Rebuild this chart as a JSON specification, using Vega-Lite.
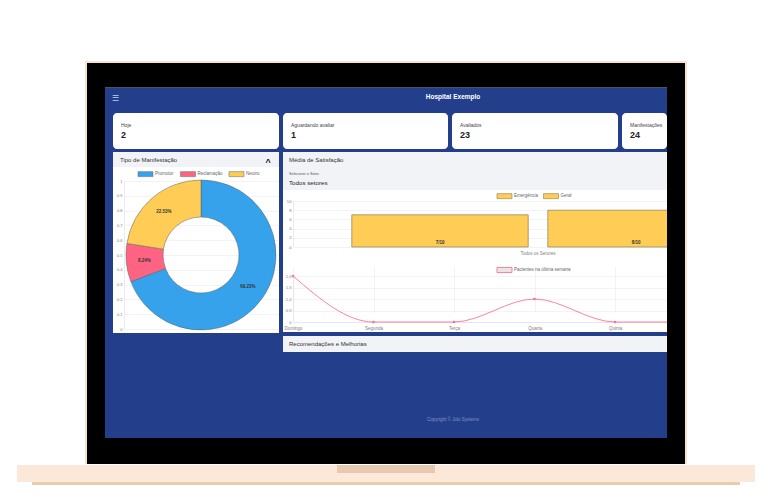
{
 "$schema": "https://vega.github.io/schema/vega-lite/v6.json",
 "padding": 0,
 "background": "#233f8b",
 "config": {
  "view": {"stroke": null, "clip": true},
  "font": "Liberation Sans",
  "axis": {"labelFont": "Liberation Sans", "labelColor": "#808080", "labelFontSize": 4.2, "gridColor": "#ebebeb", "gridWidth": 0.6, "domainColor": "#dddddd", "domainWidth": 0.6, "ticks": false, "labelPadding": 2},
  "legend": {"labelFont": "Liberation Sans", "labelFontSize": 4.5, "labelColor": "#666666", "padding": 0, "symbolSize": 225, "symbolType": "M-1,-0.333H1V0.333H-1Z", "labelOffset": 1.5, "columnPadding": 4.5, "symbolStrokeWidth": 0.6}
 },
 "spacing": 0,
 "resolve": {"scale": {"x": "independent", "y": "independent", "color": "independent", "xOffset": "independent", "theta": "independent"}, "axis": {"x": "independent", "y": "independent"}, "legend": {"color": "independent"}},
 "vconcat": [
  {"width": 779, "height": 61, "view": {"fill": "white"}, "data": {"values": []}, "mark": "rect", "encoding": {}},
  {"spacing": 0, "hconcat": [
   {"width": 85, "height": 2, "view": {"fill": "white"}, "data": {"values": []}, "mark": "rect", "encoding": {}},
   {"width": 602, "height": 2, "view": {"fill": "#f8e1cf"}, "data": {"values": []}, "mark": "rect", "encoding": {}},
   {"width": 92, "height": 2, "view": {"fill": "white"}, "data": {"values": []}, "mark": "rect", "encoding": {}}
  ]},
  {"spacing": 0,
   "resolve": {"scale": {"x": "independent", "y": "independent", "color": "independent", "xOffset": "independent", "theta": "independent"}, "axis": {"x": "independent", "y": "independent"}, "legend": {"color": "independent"}},
   "hconcat": [
   {"width": 85, "height": 401, "view": {"fill": "white"}, "data": {"values": []}, "mark": "rect", "encoding": {}},
   {"width": 2, "height": 401, "view": {"fill": "#f8e1cf"}, "data": {"values": []}, "mark": "rect", "encoding": {}},
   {"spacing": 0,
    "resolve": {"scale": {"x": "independent", "y": "independent", "color": "independent", "xOffset": "independent", "theta": "independent"}, "axis": {"x": "independent", "y": "independent"}, "legend": {"color": "independent"}},
    "vconcat": [
    {"width": 598, "height": 24, "view": {"fill": "black"}, "data": {"values": []}, "mark": "rect", "encoding": {}},
    {"spacing": 0,
     "resolve": {"scale": {"x": "independent", "y": "independent", "color": "independent", "xOffset": "independent", "theta": "independent"}, "axis": {"x": "independent", "y": "independent"}, "legend": {"color": "independent"}},
     "hconcat": [
     {"width": 18, "height": 351, "view": {"fill": "black"}, "data": {"values": []}, "mark": "rect", "encoding": {}},
     {"spacing": 0,
      "resolve": {"scale": {"x": "independent", "y": "independent", "color": "independent", "xOffset": "independent", "theta": "independent"}, "axis": {"x": "independent", "y": "independent"}, "legend": {"color": "independent"}},
      "vconcat": [
      {"width": 562, "height": 1, "view": {"fill": "#4d5361"}, "data": {"values": []}, "mark": "rect", "encoding": {}},
      {"width": 562, "height": 25,
       "layer": [
        {"data": {"values": [{"titulo": "Hospital Exemplo"}]}, "mark": {"type": "text", "fontSize": 6.5, "fontWeight": "bold", "color": "white", "dx": 67, "dy": -3.5}, "encoding": {"text": {"field": "titulo"}}},
        {"data": {"values": [{"icone": "☰"}]}, "mark": {"type": "text", "fontSize": 8, "color": "#c5cfee", "dx": -271, "dy": -2}, "encoding": {"text": {"field": "icone"}}}
       ]},
      {"spacing": 4, "bounds": "flush",
       "hconcat": [
        {"width": 4, "height": 36, "data": {"values": []}, "mark": "rect", "encoding": {}},
        {"width": 166, "height": 36, "view": {"fill": "white", "cornerRadius": 4},
         "data": {"values": [{"rotulo": "Hoje", "valor": 2}]},
         "layer": [
          {"mark": {"type": "text", "align": "left", "baseline": "middle", "dx": -75, "dy": -6, "fontSize": 5, "color": "#444444"}, "encoding": {"text": {"field": "rotulo"}}},
          {"mark": {"type": "text", "align": "left", "baseline": "middle", "dx": -75, "dy": 4, "fontSize": 9, "fontWeight": "bold", "color": "#222222"}, "encoding": {"text": {"field": "valor"}}}
         ]},
        {"width": 165, "height": 36, "view": {"fill": "white", "cornerRadius": 4},
         "data": {"values": [{"rotulo": "Aguardando avaliar", "valor": 1}]},
         "layer": [
          {"mark": {"type": "text", "align": "left", "baseline": "middle", "dx": -74.5, "dy": -6, "fontSize": 5, "color": "#444444"}, "encoding": {"text": {"field": "rotulo"}}},
          {"mark": {"type": "text", "align": "left", "baseline": "middle", "dx": -74.5, "dy": 4, "fontSize": 9, "fontWeight": "bold", "color": "#222222"}, "encoding": {"text": {"field": "valor"}}}
         ]},
        {"width": 166, "height": 36, "view": {"fill": "white", "cornerRadius": 4},
         "data": {"values": [{"rotulo": "Avaliados", "valor": 23}]},
         "layer": [
          {"mark": {"type": "text", "align": "left", "baseline": "middle", "dx": -75, "dy": -6, "fontSize": 5, "color": "#444444"}, "encoding": {"text": {"field": "rotulo"}}},
          {"mark": {"type": "text", "align": "left", "baseline": "middle", "dx": -75, "dy": 4, "fontSize": 9, "fontWeight": "bold", "color": "#222222"}, "encoding": {"text": {"field": "valor"}}}
         ]},
        {"width": 45, "height": 36, "view": {"fill": "white", "cornerRadius": 4},
         "data": {"values": [{"rotulo": "Manifestações", "valor": 24}]},
         "layer": [
          {"mark": {"type": "text", "align": "left", "baseline": "middle", "dx": -14.5, "dy": -6, "fontSize": 5, "color": "#444444", "limit": 37, "ellipsis": ""}, "encoding": {"text": {"field": "rotulo"}}},
          {"mark": {"type": "text", "align": "left", "baseline": "middle", "dx": -14.5, "dy": 4, "fontSize": 9, "fontWeight": "bold", "color": "#222222"}, "encoding": {"text": {"field": "valor"}}}
         ]}
       ]},
      {"width": 562, "height": 3, "data": {"values": []}, "mark": "rect", "encoding": {}},
      {"spacing": 0,
       "resolve": {"scale": {"x": "independent", "y": "independent", "color": "independent", "xOffset": "independent", "theta": "independent"}, "axis": {"x": "independent", "y": "independent"}, "legend": {"color": "independent"}},
       "hconcat": [
       {"width": 8, "height": 200, "data": {"values": []}, "mark": "rect", "encoding": {}},
       {"spacing": 0, "bounds": "flush",
        "resolve": {"scale": {"x": "independent", "y": "independent", "color": "independent", "xOffset": "independent", "theta": "independent"}, "axis": {"x": "independent", "y": "independent"}, "legend": {"color": "independent"}},
        "vconcat": [
        {"width": 166, "height": 15, "view": {"fill": "#f1f3f7"},
         "layer": [
          {"data": {"values": [{"titulo": "Tipo de Manifestação"}]}, "mark": {"type": "text", "align": "left", "baseline": "middle", "dx": -76, "dy": 0.5, "fontSize": 6, "color": "#333333"}, "encoding": {"text": {"field": "titulo"}}},
          {"data": {"values": [{"icone": "^"}]}, "mark": {"type": "text", "align": "center", "baseline": "middle", "dx": 72, "dy": 2, "fontSize": 9, "fontWeight": "bold", "color": "#222222"}, "encoding": {"text": {"field": "icone"}}}
         ]},
        {"width": 166, "height": 166, "view": {"fill": "white"},
         "data": {"values": [{"tipo": "Promotor", "pct": 0.6923}, {"tipo": "Reclamação", "pct": 0.0824}, {"tipo": "Neutro", "pct": 0.2253}]},
         "transform": [{"window": [{"op": "row_number", "as": "ordem"}]}],
         "encoding": {
          "x": {"datum": 0.5, "type": "quantitative", "scale": {"domain": [0, 1], "range": [11, 165]}, "axis": null},
          "y": {"datum": 0.5, "type": "quantitative", "scale": {"domain": [0, 1], "range": [162, 14]}, "axis": {"orient": "left", "offset": -11, "values": [0, 0.1, 0.2, 0.3, 0.4, 0.5, 0.6, 0.7, 0.8, 0.9, 1], "format": ".1~f", "title": null, "labelFontSize": 4, "grid": true}},
          "theta": {"field": "pct", "type": "quantitative", "stack": true},
          "order": {"field": "ordem", "type": "quantitative"}
         },
         "layer": [
          {"mark": {"type": "arc", "innerRadius": 38, "outerRadius": 75, "stroke": "#5f5f5f", "strokeWidth": 0.5},
           "encoding": {"color": {"field": "tipo", "type": "nominal", "scale": {"domain": ["Promotor", "Reclamação", "Neutro"], "range": ["#36a2eb", "#ff6384", "#ffcd56"]}, "legend": {"orient": "none", "legendX": 24.5, "legendY": -1, "direction": "horizontal", "columns": 3, "title": null, "symbolStrokeColor": "#777777", "columnPadding": 4.5}}}},
          {"mark": {"type": "text", "radius": 57, "fontSize": 4.5, "fontWeight": "bold", "color": "#333333"},
           "encoding": {"text": {"field": "pct", "type": "quantitative", "format": ".2%"}}}
         ]},
        {"width": 166, "height": 19, "data": {"values": []}, "mark": "rect", "encoding": {}}
       ]},
       {"width": 4, "height": 200, "data": {"values": []}, "mark": "rect", "encoding": {}},
       {"spacing": 0, "bounds": "flush",
        "resolve": {"scale": {"x": "independent", "y": "independent", "color": "independent", "xOffset": "independent", "theta": "independent"}, "axis": {"x": "independent", "y": "independent"}, "legend": {"color": "independent"}},
        "vconcat": [
        {"width": 384, "height": 38, "view": {"fill": "#f1f3f7"},
         "layer": [
          {"data": {"values": [{"texto": "Média de Satisfação"}]}, "mark": {"type": "text", "align": "left", "baseline": "middle", "dx": -186, "dy": -11, "fontSize": 6, "color": "#333333"}, "encoding": {"text": {"field": "texto"}}},
          {"data": {"values": [{"texto": "Selecione o Setor"}]}, "mark": {"type": "text", "align": "left", "baseline": "middle", "dx": -186, "dy": 3, "fontSize": 3.8, "color": "#555555"}, "encoding": {"text": {"field": "texto"}}},
          {"data": {"values": [{"texto": "Todos setores"}]}, "mark": {"type": "text", "align": "left", "baseline": "middle", "dx": -186, "dy": 12, "fontSize": 6.2, "color": "#222222"}, "encoding": {"text": {"field": "texto"}}}
         ]},
        {"width": 384, "height": 66, "view": {"fill": "white"},
         "data": {"values": [{"grupo": "Todos os Setores", "setor": "Emergência", "nota": 7, "rotulo": "7/10"}, {"grupo": "Todos os Setores", "setor": "Geral", "nota": 8, "rotulo": "8/10"}]},
         "encoding": {
          "x": {"field": "grupo", "type": "nominal", "scale": {"range": [10, 500], "paddingInner": 0, "paddingOuter": 0.125}, "axis": {"orient": "bottom", "offset": -9, "title": null, "labelAngle": 0, "labelFontSize": 4.5, "labelPadding": 3, "grid": false, "domain": false}},
          "xOffset": {"field": "setor", "type": "nominal", "scale": {"paddingInner": 0.1, "paddingOuter": 0.05}},
          "y": {"field": "nota", "type": "quantitative", "scale": {"domain": [0, 10], "range": [57, 11]}, "axis": {"orient": "left", "offset": -10, "values": [0, 2, 4, 6, 8, 10], "title": null, "grid": true, "labelOverlap": false}}
         },
         "layer": [
          {"mark": {"type": "bar", "clip": true, "stroke": "#8a7d5a", "strokeWidth": 0.7},
           "encoding": {
            "color": {"field": "setor", "type": "nominal", "scale": {"domain": ["Emergência", "Geral"], "range": ["#ffcd56", "#ffcd56"]}, "legend": {"orient": "none", "legendX": 213.5, "legendY": -2, "direction": "horizontal", "columns": 2, "title": null, "symbolStrokeColor": "#8a7d5a", "columnPadding": 3.5}}
           }},
          {"mark": {"type": "text", "clip": true, "baseline": "bottom", "dy": -2.5, "fontSize": 4.5, "fontWeight": "bold", "color": "#333333"},
           "encoding": {"y": {"datum": 0, "type": "quantitative", "axis": {"orient": "left", "offset": -10, "values": [0, 2, 4, 6, 8, 10], "title": null, "grid": true, "labelOverlap": false}}, "text": {"field": "rotulo"}}}
         ]},
        {"width": 384, "height": 76, "view": {"fill": "white"},
         "data": {"values": [{"dia": "Domingo", "pacientes": 2}, {"dia": "Segunda", "pacientes": 0}, {"dia": "Terça", "pacientes": 0}, {"dia": "Quarta", "pacientes": 1}, {"dia": "Quinta", "pacientes": 0}, {"dia": "Sexta", "pacientes": 0}, {"dia": "Sábado", "pacientes": 0}]},
         "encoding": {
          "x": {"field": "dia", "type": "ordinal", "sort": null, "scale": {"type": "point", "range": [10, 493], "padding": 0}, "axis": {"orient": "bottom", "offset": -10, "values": ["Domingo", "Segunda", "Terça", "Quarta", "Quinta"], "title": null, "labelAngle": 0, "labelFontSize": 4.5, "labelPadding": 3, "grid": true}},
          "y": {"field": "pacientes", "type": "quantitative", "scale": {"domain": [0, 2], "range": [66, 20]}, "axis": {"orient": "left", "offset": -10, "values": [0, 0.5, 1, 1.5, 2], "labelExpr": "datum.value == 0 ? '0' : replace(format(datum.value, '.1f'), '.', ',')", "title": null, "grid": true, "labelOverlap": false}}
         },
         "layer": [
          {"mark": {"type": "line", "clip": true, "interpolate": "monotone", "strokeWidth": 0.8},
           "encoding": {"color": {"datum": "Pacientes na última semana", "type": "nominal", "scale": {"range": ["#ff6384"]}, "legend": {"orient": "none", "legendX": 213.5, "legendY": 6, "title": null, "symbolFillColor": "#e6e6e6", "symbolStrokeColor": "#ff6384", "symbolStrokeWidth": 0.8}}}},
          {"mark": {"type": "point", "clip": true, "filled": true, "size": 7, "color": "#ff6384", "opacity": 0.85}}
         ]},
        {"width": 384, "height": 4, "data": {"values": []}, "mark": "rect", "encoding": {}},
        {"width": 384, "height": 16, "view": {"fill": "#f1f3f7"},
         "layer": [
          {"data": {"values": [{"texto": "Recomendações e Melhorias"}]}, "mark": {"type": "text", "align": "left", "baseline": "middle", "dx": -186, "dy": 0, "fontSize": 6, "color": "#333333"}, "encoding": {"text": {"field": "texto"}}}
         ]}
       ]}
      ]},
      {"width": 562, "height": 86,
       "layer": [
        {"data": {"values": [{"texto": "Copyright © Jolo Systems"}]}, "mark": {"type": "text", "fontSize": 4.5, "color": "#8594c4", "dx": 67, "dy": 25}, "encoding": {"text": {"field": "texto"}}}
       ]}
     ]},
     {"width": 18, "height": 351, "view": {"fill": "black"}, "data": {"values": []}, "mark": "rect", "encoding": {}}
    ]},
    {"width": 598, "height": 26, "view": {"fill": "black"}, "data": {"values": []}, "mark": "rect", "encoding": {}}
   ]},
   {"width": 2, "height": 401, "view": {"fill": "#f8e1cf"}, "data": {"values": []}, "mark": "rect", "encoding": {}},
   {"width": 92, "height": 401, "view": {"fill": "white"}, "data": {"values": []}, "mark": "rect", "encoding": {}}
  ]},
  {"spacing": 0, "hconcat": [
   {"width": 17, "height": 21, "view": {"fill": "white"}, "data": {"values": []}, "mark": "rect", "encoding": {}},
   {"spacing": 0, "vconcat": [
    {"width": 738, "height": 1, "view": {"fill": "white"}, "data": {"values": []}, "mark": "rect", "encoding": {}},
    {"spacing": 0, "hconcat": [
     {"width": 320, "height": 8, "view": {"fill": "#fce8d8"}, "data": {"values": []}, "mark": "rect", "encoding": {}},
     {"width": 98, "height": 8, "view": {"fill": "#e7c9af", "stroke": null}, "data": {"values": []}, "mark": "rect", "encoding": {}},
     {"width": 320, "height": 8, "view": {"fill": "#fce8d8"}, "data": {"values": []}, "mark": "rect", "encoding": {}}
    ]},
    {"width": 738, "height": 9, "view": {"fill": "#fce8d8"}, "data": {"values": []}, "mark": "rect", "encoding": {}},
    {"spacing": 0, "hconcat": [
     {"width": 15, "height": 3, "view": {"fill": "white"}, "data": {"values": []}, "mark": "rect", "encoding": {}},
     {"width": 708, "height": 3, "view": {"fill": "#e8ccb2"}, "data": {"values": []}, "mark": "rect", "encoding": {}},
     {"width": 15, "height": 3, "view": {"fill": "white"}, "data": {"values": []}, "mark": "rect", "encoding": {}}
    ]}
   ]},
   {"width": 24, "height": 21, "view": {"fill": "white"}, "data": {"values": []}, "mark": "rect", "encoding": {}}
  ]},
  {"width": 779, "height": 15, "view": {"fill": "white"}, "data": {"values": []}, "mark": "rect", "encoding": {}}
 ]
}
